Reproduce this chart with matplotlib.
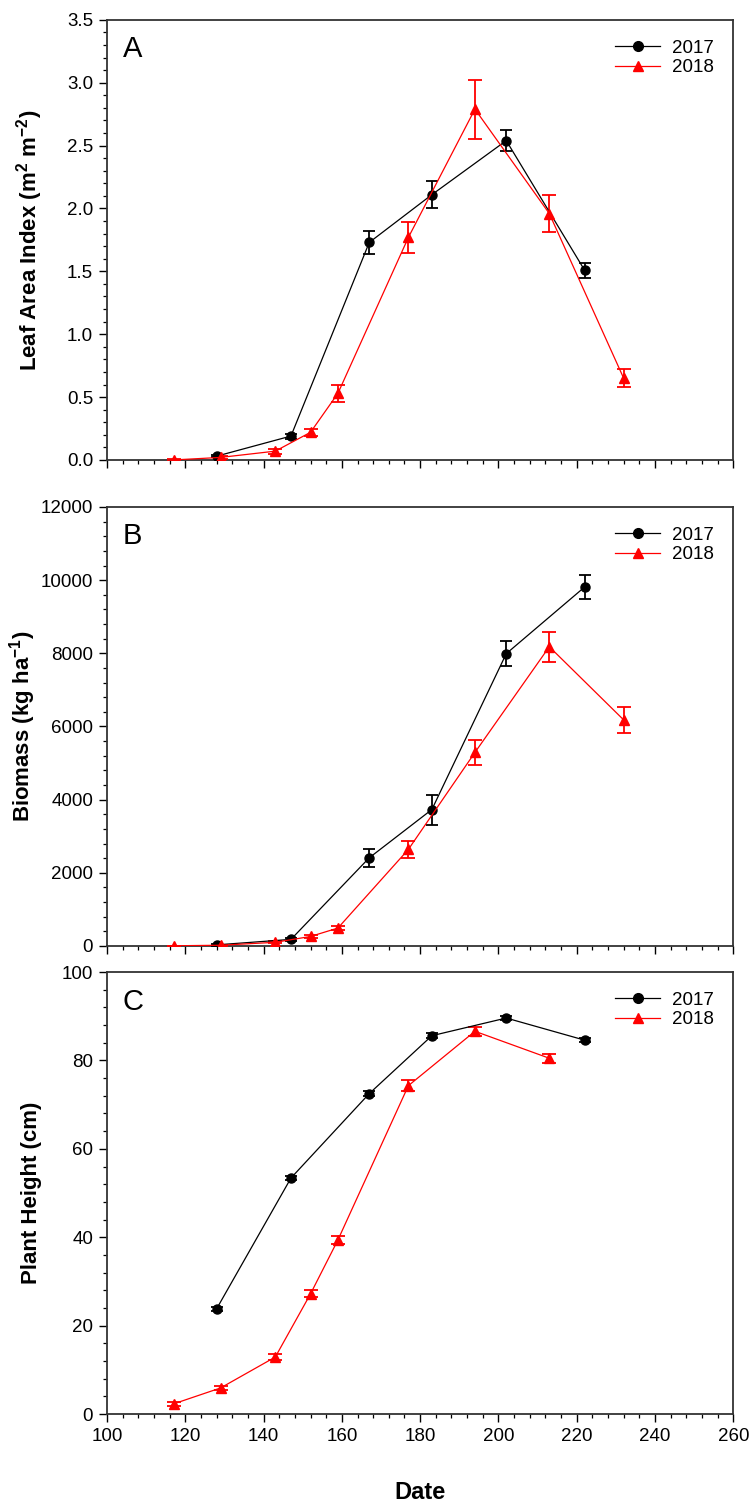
import matplotlib
matplotlib.use("Agg")
import matplotlib.pyplot as plt
from matplotlib.ticker import MultipleLocator, NullFormatter
from matplotlib.lines import Line2D

plt.rcParams['font.family'] = ['Liberation Sans', 'DejaVu Sans']
plt.rcParams['mathtext.fontset'] = 'custom'
plt.rcParams['mathtext.bf'] = 'Liberation Sans:bold'
plt.rcParams['mathtext.rm'] = 'Liberation Sans'

# sampling dates (day of year)
doy_2017 = [128, 147, 167, 183, 202, 222]
doy_2018 = [117, 129, 143, 152, 159, 177, 194, 213, 232]

# leaf area index, m2 m-2
lai_2017 = [0.03, 0.19, 1.73, 2.11, 2.54, 1.51]
lai_2017_se = [0.01, 0.02, 0.09, 0.11, 0.085, 0.06]
lai_2018 = [0.0, 0.02, 0.07, 0.22, 0.53, 1.77, 2.79, 1.96, 0.65]
lai_2018_se = [0.005, 0.01, 0.02, 0.03, 0.07, 0.125, 0.235, 0.15, 0.07]

# biomass, kg ha-1
bio_2017 = [30, 180, 2410, 3730, 7990, 9810]
bio_2017_se = [20, 40, 240, 410, 350, 330]
bio_2018 = [5, 20, 100, 260, 490, 2640, 5290, 8180, 6180]
bio_2018_se = [5, 10, 30, 40, 60, 230, 340, 410, 345]

# plant height, cm
ht_2017 = [23.8, 53.4, 72.5, 85.6, 89.6, 84.6]
ht_2017_se = [0.5, 0.5, 0.5, 0.6, 0.5, 0.5]
ht_2018 = [2.3, 5.9, 12.9, 27.2, 39.4, 74.3, 86.6, 80.5]
ht_2018_se = [0.4, 0.5, 0.6, 0.8, 0.9, 1.2, 1.0, 1.0]

fig = plt.figure(figsize=(7.53, 15.08), dpi=100)
left, width = 0.1421, 0.8317
axA = fig.add_axes([left, 0.6950, width, 0.2918])
axB = fig.add_axes([left, 0.3727, width, 0.2911])
axC = fig.add_axes([left, 0.0623, width, 0.2931])

panels = [
    (axA, 'A', lai_2017, lai_2017_se, lai_2018, lai_2018_se,
     (0, 3.5), 0.5, 0.1, r'Leaf Area Index (m$^{\mathbf{2}}$ m$^{\mathbf{-2}}$)', '{:.1f}', -0.099),
    (axB, 'B', bio_2017, bio_2017_se, bio_2018, bio_2018_se,
     (0, 12000), 2000, 400, r'Biomass (kg ha$^{\mathbf{-1}}$)', '{:.0f}', -0.110),
    (axC, 'C', ht_2017, ht_2017_se, ht_2018, ht_2018_se,
     (0, 100), 20, 4, 'Plant Height (cm)', '{:.0f}', -0.104),
]

handles = [
    Line2D([], [], color='black', marker='o', ms=7, lw=0.9),
    Line2D([], [], color='red', marker='^', ms=7, lw=0.9),
]

for ax, letter, y17, e17, y18, e18, ylim, major, minor, ylab, fmt, labx in panels:
    x18 = doy_2018[:len(y18)]
    ax.errorbar(doy_2017, y17, yerr=e17, color='black', marker='o', ms=6.5,
                lw=0.9, elinewidth=1.3, capsize=4.5, capthick=1.3, zorder=3)
    ax.errorbar(x18, y18, yerr=e18, color='red', marker='^', ms=7,
                lw=0.9, elinewidth=1.3, capsize=5, capthick=1.3, zorder=3)
    ax.set_xlim(100, 260)
    ax.set_ylim(*ylim)
    ax.xaxis.set_major_locator(MultipleLocator(20))
    ax.xaxis.set_minor_locator(MultipleLocator(4))
    ax.yaxis.set_major_locator(MultipleLocator(major))
    ax.yaxis.set_minor_locator(MultipleLocator(minor))
    ax.yaxis.set_major_formatter(plt.FuncFormatter(lambda v, p, f=fmt: f.format(v)))
    ax.tick_params(which='major', direction='out', length=6, width=1.0,
                   labelsize=13.5, top=False, right=False, pad=4)
    ax.tick_params(which='minor', direction='out', length=3, width=0.9,
                   top=False, right=False)
    for s in ax.spines.values():
        s.set_linewidth(1.3)
        s.set_color('#333333')
    ax.set_ylabel(ylab, fontsize=16, fontweight='bold')
    ax.yaxis.set_label_coords(labx, 0.5)
    ax.text(0.025, 0.965, letter, transform=ax.transAxes, fontsize=21,
            va='top', ha='left')
    ax.legend(handles, ['2017', '2018'], loc='upper right', frameon=False,
              fontsize=13.5, handlelength=2.4, labelspacing=0.12,
              handletextpad=0.6, borderaxespad=0.65)

axA.xaxis.set_major_formatter(NullFormatter())
axB.xaxis.set_major_formatter(NullFormatter())
axC.set_xlabel('Date', fontsize=17, fontweight='bold', labelpad=26)

fig.savefig('out.png', dpi=100)
